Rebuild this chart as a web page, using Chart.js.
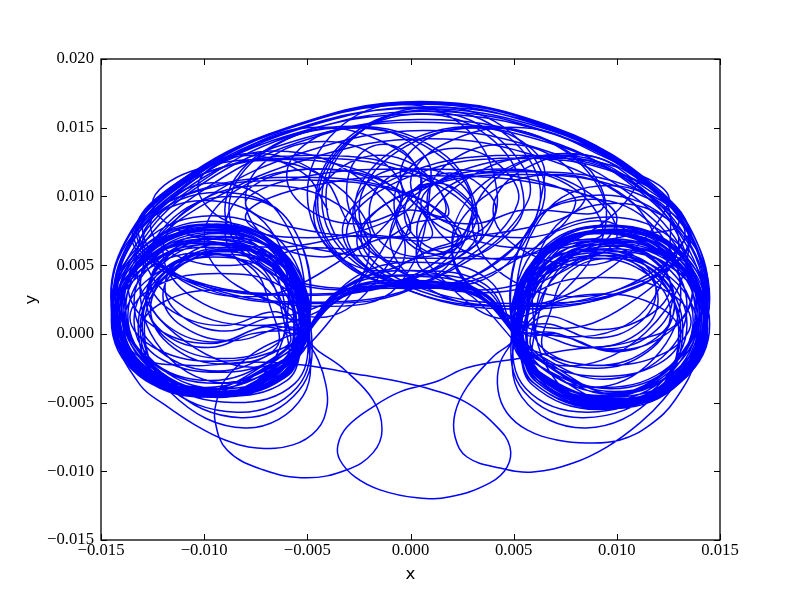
<!DOCTYPE html>
<html><head><meta charset="utf-8">
<script src="https://cdn.jsdelivr.net/npm/chart.js@4/dist/chart.umd.min.js"></script>
<style>html,body{margin:0;padding:0;background:#fff}</style>
</head><body>
<canvas id="c" width="800" height="600"></canvas>
<script>
// All trajectory values below are in thousandths (x1e-3) of the axis units.
const UNIT = 1e-3;
const xTickValues = [-0.015, -0.010, -0.005, 0.000, 0.005, 0.010, 0.015];
const yTickValues = [-0.015, -0.010, -0.005, 0.000, 0.005, 0.010, 0.015, 0.020];
const xAxisLabel = 'x';
const yAxisLabel = 'y';

const leftLobeLoops = [
 [[-5.0,0.3],[-6.4,5.7],[-9.6,7.5],[-12.8,5.7],[-14.2,1.5],[-12.8,-2.7],[-9.6,-4.5],[-6.4,-2.7]],
 [[-5.2,0.2],[-6.6,5.2],[-9.8,6.9],[-13.0,5.2],[-14.3,1.2],[-13.0,-2.8],[-9.8,-4.5],[-6.6,-2.8]],
 [[-5.0,0.6],[-6.3,6.1],[-9.4,8.0],[-12.5,6.1],[-13.8,1.8],[-12.5,-2.5],[-9.4,-4.4],[-6.3,-2.5]],
 [[-5.4,0.0],[-7.0,4.7],[-9.9,6.3],[-13.0,4.7],[-14.4,0.9],[-13.0,-2.9],[-9.9,-4.5],[-6.8,-2.9]],
 [[-4.9,0.2],[-6.1,5.5],[-9.3,7.3],[-12.5,5.5],[-13.9,1.4],[-12.5,-2.7],[-9.3,-4.5],[-6.1,-2.7]],
 [[-5.3,0.8],[-6.7,6.0],[-9.7,7.6],[-12.7,6.0],[-14.0,2.1],[-12.7,-1.8],[-9.7,-3.4],[-6.7,-1.8]],
 [[-5.2,1.0],[-6.3,5.7],[-9.0,7.0],[-11.7,5.7],[-12.8,2.6],[-11.7,-0.5],[-9.0,-1.8],[-6.3,-0.5]],
 [[-6.1,2.2],[-7.1,5.5],[-9.4,6.6],[-11.7,5.5],[-12.7,3.0],[-11.7,0.5],[-9.4,-0.6],[-7.1,0.5]],
 [[-5.5,0.2],[-6.9,5.7],[-10.0,7.6],[-13.2,5.7],[-14.5,1.4],[-13.2,-2.9],[-10.0,-4.6],[-6.9,-2.9]],
 [[-5.1,-0.2],[-6.4,4.1],[-9.5,5.6],[-12.6,4.1],[-13.9,0.6],[-12.6,-2.9],[-9.5,-4.6],[-6.4,-2.9]],
 [[-5.2,1.6],[-6.2,5.1],[-8.6,6.1],[-11.0,5.1],[-12.0,2.8],[-11.0,0.5],[-8.6,-0.5],[-6.2,0.5]],
 [[-4.9,0.6],[-6.2,6.6],[-9.6,8.6],[-13.0,6.6],[-14.5,2.0],[-13.0,-2.6],[-9.6,-4.4],[-6.2,-2.6]],
 [[-6.0,0.0],[-7.3,5.0],[-10.2,6.6],[-13.1,5.0],[-14.4,1.1],[-13.1,-2.8],[-10.2,-4.4],[-7.3,-2.8]],
 [[-5.0,0.0],[-6.3,4.5],[-9.2,6.0],[-12.1,4.5],[-13.4,1.0],[-12.1,-2.5],[-9.2,-4.0],[-6.3,-2.5]],
 [[-5.7,2.0],[-6.9,6.6],[-9.7,7.9],[-12.5,6.6],[-13.7,3.6],[-12.5,0.6],[-9.7,-0.7],[-6.9,0.6]],
 [[-4.9,0.4],[-6.3,5.6],[-9.5,7.4],[-12.7,5.6],[-14.1,1.5],[-12.7,-2.6],[-9.5,-4.4],[-6.3,-2.6]],
 [[-4.9,-0.1],[-6.1,4.2],[-9.0,5.8],[-11.9,4.2],[-13.1,0.4],[-11.9,-3.4],[-8.6,-5.0],[-5.6,-3.6]],
 [[-5.0,0.0],[-6.2,4.4],[-9.1,6.0],[-12.0,4.4],[-13.2,0.5],[-12.0,-3.6],[-8.4,-5.7],[-5.5,-3.9]],
 [[-4.9,0.1],[-6.0,4.6],[-8.9,6.3],[-11.8,4.6],[-13.0,0.5],[-11.7,-3.8],[-8.2,-6.1],[-5.4,-4.1]],
 [[-4.8,0.0],[-5.9,4.5],[-8.8,6.2],[-11.7,4.5],[-12.9,0.3],[-11.6,-4.3],[-8.0,-6.85],[-5.2,-4.5]],
 [[-5.1,0.4],[-6.5,6.1],[-9.8,8.0],[-13.1,6.1],[-14.5,1.7],[-13.1,-2.7],[-9.8,-4.6],[-6.5,-2.7]],
 [[-5.2,1.0],[-6.4,5.8],[-9.3,7.3],[-12.2,5.8],[-13.4,2.3],[-12.2,-1.2],[-9.3,-2.7],[-6.4,-1.2]],
 [[-5.8,-0.3],[-7.1,4.3],[-10.1,5.9],[-13.1,4.3],[-14.4,0.7],[-13.1,-2.9],[-10.1,-4.5],[-7.1,-2.9]],
 [[-5.9,2.6],[-6.8,5.6],[-8.9,6.6],[-11.0,5.6],[-11.9,3.4],[-11.0,1.2],[-8.9,0.2],[-6.8,1.2]],
 [[-4.9,1.2],[-6.2,6.0],[-9.4,7.6],[-12.6,6.0],[-13.9,2.0],[-12.6,-2.0],[-9.4,-3.6],[-6.2,-2.0]],
 [[-5.1,0.0],[-6.5,4.9],[-9.7,6.5],[-12.9,4.9],[-14.3,1.0],[-12.9,-2.9],[-9.7,-4.5],[-6.5,-2.9]],
 [[-5.4,1.0],[-6.5,4.6],[-9.0,5.8],[-11.5,4.6],[-12.6,1.8],[-11.5,-1.0],[-9.0,-2.2],[-6.5,-1.0]],
 [[-6.8,2.0],[-7.7,4.8],[-9.8,5.8],[-11.9,4.8],[-12.8,2.4],[-11.9,0.0],[-9.8,-1.0],[-7.7,0.0]],
 [[-5.0,0.8],[-6.3,3.5],[-9.3,4.4],[-12.3,3.5],[-13.6,1.2],[-12.3,-1.1],[-9.3,-2.0],[-6.3,-1.1]],
 [[-4.95,0.4],[-6.3,5.9],[-9.6,7.7],[-12.9,5.9],[-14.3,1.6],[-12.9,-2.7],[-9.6,-4.6],[-6.3,-2.7]],
 [[-5.1,0.3],[-6.5,5.4],[-9.7,7.1],[-12.9,5.4],[-14.2,1.3],[-12.9,-2.8],[-9.7,-4.3],[-6.5,-2.8]],
 [[-5.0,0.5],[-6.2,5.9],[-9.4,7.8],[-12.6,5.9],[-14.0,1.7],[-12.6,-2.4],[-9.4,-4.2],[-6.2,-2.4]],
 [[-5.4,3.0],[-6.5,6.0],[-9.0,7.0],[-11.5,6.0],[-12.6,3.8],[-11.5,1.6],[-9.0,0.6],[-6.5,1.6]],
 [[-5.3,0.2],[-6.6,2.3],[-9.3,3.2],[-12.0,2.3],[-13.1,0.2],[-12.0,-1.9],[-9.3,-2.8],[-6.6,-1.9]],
 [[-5.3,0.1],[-6.8,5.0],[-10.0,6.7],[-13.2,5.0],[-14.5,1.0],[-13.2,-3.0],[-10.0,-4.4],[-6.8,-3.0]],
 [[-4.9,0.3],[-6.0,5.3],[-9.1,7.1],[-12.3,5.3],[-13.7,1.3],[-12.3,-2.6],[-9.1,-4.3],[-6.0,-2.6]],
 [[-5.0,0.9],[-6.4,6.3],[-9.7,8.2],[-13.0,6.3],[-14.4,2.2],[-13.0,-2.2],[-9.7,-4.0],[-6.4,-2.2]],
 [[-5.6,0.6],[-6.9,5.3],[-9.9,6.9],[-12.9,5.3],[-14.2,1.5],[-12.9,-2.3],[-9.9,-3.9],[-6.9,-2.3]],
 [[-4.9,1.0],[-5.9,8.2],[-9.3,10.3],[-12.7,8.2],[-14.2,3.0],[-12.7,-2.1],[-9.3,-4.3],[-5.9,-2.1]],
 [[-5.0,1.5],[-6.4,8.8],[-9.6,11.0],[-12.5,8.6],[-14.2,3.5],[-12.8,-1.8],[-9.6,-4.1],[-6.4,-1.8]],
 [[-4.9,0.8],[-5.8,8.0],[-8.8,10.0],[-11.8,8.0],[-13.1,3.2],[-11.8,-1.6],[-8.8,-3.6],[-5.8,-1.6]],
 [[-5.5,0.5],[-6.8,7.6],[-10.0,9.7],[-13.2,7.6],[-14.5,2.8],[-13.2,-2.0],[-10.0,-4.1],[-6.8,-2.0]],
 [[-5.0,0.2]]
];

const rightLobeLoops = [
 [[5.0,0.1],[6.4,5.5],[9.6,7.4],[12.8,5.5],[14.2,1.2],[12.8,-3.1],[9.6,-5.0],[6.4,-3.1]],
 [[5.2,0.0],[6.6,5.1],[9.8,6.9],[13.0,5.1],[14.3,0.9],[13.0,-3.3],[9.8,-5.1],[6.6,-3.3]],
 [[5.0,0.4],[6.3,6.0],[9.4,7.9],[12.5,6.0],[13.8,1.5],[12.5,-3.0],[9.4,-4.9],[6.3,-3.0]],
 [[5.4,-0.1],[7.0,4.7],[9.9,6.4],[13.0,4.7],[14.4,0.6],[13.0,-3.5],[9.9,-5.2],[6.8,-3.5]],
 [[4.9,0.1],[6.1,5.5],[9.3,7.4],[12.5,5.5],[13.9,1.1],[12.5,-3.3],[9.3,-5.2],[6.1,-3.3]],
 [[5.3,0.6],[6.7,5.9],[9.7,7.6],[12.7,5.9],[14.0,1.8],[12.7,-2.3],[9.7,-4.0],[6.7,-2.3]],
 [[5.2,0.8],[6.3,5.5],[9.0,6.9],[11.7,5.5],[12.8,2.3],[11.7,-0.9],[9.0,-2.3],[6.3,-0.9]],
 [[6.1,1.9],[7.1,5.4],[9.4,6.5],[11.7,5.4],[12.7,2.7],[11.7,0.0],[9.4,-1.1],[7.1,0.0]],
 [[5.6,0.1],[6.9,5.7],[10.0,7.6],[13.1,5.7],[14.4,1.1],[13.1,-3.5],[10.0,-5.4],[6.9,-3.5]],
 [[5.1,-0.3],[6.4,4.1],[9.5,5.7],[12.6,4.1],[13.9,0.3],[12.6,-3.5],[9.5,-5.1],[6.4,-3.5]],
 [[5.2,1.4],[6.2,5.0],[8.6,6.0],[11.0,5.0],[12.0,2.5],[11.0,0.0],[8.6,-1.0],[6.2,0.0]],
 [[4.9,0.5],[6.2,6.5],[9.6,8.5],[13.0,6.5],[14.4,1.7],[13.0,-3.1],[9.6,-5.1],[6.2,-3.1]],
 [[6.0,-0.1],[7.3,4.9],[10.2,6.7],[13.1,4.9],[14.4,0.8],[13.1,-3.3],[10.2,-5.1],[7.3,-3.3]],
 [[5.0,-0.1],[6.3,4.5],[9.2,6.1],[12.1,4.5],[13.4,0.7],[12.1,-3.1],[9.2,-4.7],[6.3,-3.1]],
 [[5.7,1.8],[6.9,6.5],[9.7,7.8],[12.5,6.5],[13.7,3.3],[12.5,0.1],[9.7,-1.2],[6.9,0.1]],
 [[4.9,0.3],[6.3,5.5],[9.5,7.4],[12.7,5.5],[14.1,1.2],[12.7,-3.1],[9.5,-5.0],[6.3,-3.1]],
 [[4.9,-0.1],[6.1,4.1],[9.0,5.7],[11.9,4.1],[13.1,0.2],[11.9,-3.9],[8.6,-5.7],[5.6,-4.0]],
 [[5.0,0.0],[6.2,4.3],[9.1,5.9],[12.0,4.3],[13.2,0.3],[12.0,-4.0],[8.4,-6.1],[5.5,-4.2]],
 [[4.9,0.0],[6.0,4.5],[8.9,6.2],[11.8,4.5],[13.0,0.3],[11.9,-4.4],[8.5,-6.85],[5.4,-4.6]],
 [[5.1,0.3],[6.5,6.0],[9.8,7.9],[13.1,6.0],[14.4,1.4],[13.1,-3.2],[9.8,-5.1],[6.5,-3.2]],
 [[5.2,0.8],[6.4,5.7],[9.3,7.3],[12.2,5.7],[13.4,2.0],[12.2,-1.7],[9.3,-3.3],[6.4,-1.7]],
 [[5.8,-0.4],[7.1,4.3],[10.1,6.0],[13.1,4.3],[14.4,0.4],[13.1,-3.5],[10.1,-5.2],[7.1,-3.5]],
 [[5.9,2.4],[6.8,5.5],[8.9,6.5],[11.0,5.5],[11.9,3.1],[11.0,0.7],[8.9,-0.3],[6.8,0.7]],
 [[4.9,0.9],[6.2,5.7],[9.4,7.3],[12.6,5.7],[13.9,1.7],[12.6,-2.3],[9.4,-3.9],[6.2,-2.3]],
 [[5.1,-0.3],[6.5,4.6],[9.7,6.2],[12.9,4.6],[14.3,0.7],[12.9,-3.2],[9.7,-4.8],[6.5,-3.2]],
 [[5.4,0.7],[6.5,4.3],[9.0,5.5],[11.5,4.3],[12.6,1.5],[11.5,-1.3],[9.0,-2.5],[6.5,-1.3]],
 [[6.8,1.7],[7.7,4.5],[9.8,5.5],[11.9,4.5],[12.8,2.1],[11.9,-0.3],[9.8,-1.3],[7.7,-0.3]],
 [[5.0,0.5],[6.3,3.2],[9.3,4.1],[12.3,3.2],[13.6,0.9],[12.3,-1.4],[9.3,-2.3],[6.3,-1.4]],
 [[4.95,0.1],[6.3,5.6],[9.6,7.4],[12.9,5.6],[14.3,1.3],[12.9,-3.0],[9.6,-4.9],[6.3,-3.0]],
 [[5.1,0.0],[6.5,5.1],[9.7,6.8],[12.9,5.1],[14.2,1.0],[12.9,-3.1],[9.7,-4.6],[6.5,-3.1]],
 [[5.0,0.2],[6.2,5.6],[9.4,7.5],[12.6,5.6],[14.0,1.4],[12.6,-2.7],[9.4,-4.5],[6.2,-2.7]],
 [[5.4,2.7],[6.5,5.7],[9.0,6.7],[11.5,5.7],[12.6,3.5],[11.5,1.3],[9.0,0.3],[6.5,1.3]],
 [[5.3,-0.1],[6.6,2.0],[9.3,2.9],[12.0,2.0],[13.1,-0.1],[12.0,-2.2],[9.3,-3.1],[6.6,-2.2]],
 [[5.3,-0.2],[6.8,4.7],[10.0,6.4],[13.2,4.7],[14.5,0.7],[13.2,-3.3],[10.0,-4.7],[6.8,-3.3]],
 [[4.9,0.0],[6.0,5.0],[9.1,6.8],[12.3,5.0],[13.7,1.0],[12.3,-2.9],[9.1,-4.6],[6.0,-2.9]],
 [[5.0,0.6],[6.4,6.0],[9.7,7.9],[13.0,6.0],[14.4,1.9],[13.0,-2.5],[9.7,-4.3],[6.4,-2.5]],
 [[5.6,0.3],[6.9,5.0],[9.9,6.6],[12.9,5.0],[14.2,1.2],[12.9,-2.6],[9.9,-4.2],[6.9,-2.6]],
 [[4.9,0.8],[5.9,8.0],[9.3,10.1],[12.7,8.0],[14.2,2.8],[12.7,-2.3],[9.3,-4.6],[5.9,-2.3]],
 [[5.0,1.3],[6.4,8.6],[9.6,10.8],[12.8,8.6],[14.2,3.3],[12.8,-2.0],[9.6,-4.4],[6.4,-2.0]],
 [[4.9,0.6],[5.8,7.8],[8.8,9.8],[11.8,7.8],[13.1,3.0],[11.8,-1.8],[8.8,-3.9],[5.8,-1.8]],
 [[5.5,0.3],[6.8,7.4],[10.0,9.5],[13.2,7.4],[14.5,2.6],[13.2,-2.2],[10.0,-4.4],[6.8,-2.2]],
 [[5.0,0.2]]
];

const upperLoops = [
 [[-4.0,9.0],[-5.3,11.8],[-8.5,12.9],[-11.2,10.5],[-12.6,8.0],[-11.5,5.8],[-8.5,5.0],[-5.3,6.2]],
 [[-2.0,6.6],[-3.6,10.8],[-7.5,12.6],[-11.2,10.2],[-13.0,6.6],[-11.4,2.4],[-7.5,0.6],[-3.6,2.4]],
 [[-2.0,6.0],[-3.5,9.4],[-7.0,10.8],[-10.5,9.4],[-12.0,6.0],[-10.5,2.6],[-7.0,1.2],[-3.5,2.6]],
 [[-0.3,5.5],[-2.2,11.0],[-6.8,13.3],[-11.0,10.6],[-13.3,5.5],[-11.4,0.0],[-6.8,-2.3],[-3.0,2.7]],
 [[-0.4,9.8],[-1.5,12.7],[-4.2,14.0],[-6.9,12.7],[-8.0,9.8],[-6.9,6.9],[-4.2,5.6],[-1.5,6.9]],
 [[0.0,7.5],[-1.3,10.7],[-4.5,12.0],[-7.7,10.7],[-9.0,7.5],[-7.7,4.3],[-4.6,1.2],[-1.8,3.6]],
 [[0.5,11.0],[-1.1,13.8],[-5.0,15.0],[-8.6,13.0],[-10.3,10.8],[-8.9,8.2],[-5.0,7.0],[-1.1,8.2]],
 [[0.5,10.4],[0.0,12.8],[-1.3,13.8],[-2.6,12.8],[-3.1,10.4],[-2.6,8.0],[-1.3,7.0],[0.0,8.0]],
 [[1.7,8.8],[0.7,11.7],[-1.5,13.0],[-3.7,11.7],[-4.7,8.8],[-3.7,5.9],[-1.5,4.6],[0.7,5.9]],
 [[2.5,7.0],[0.1,10.0],[-5.5,11.2],[-11.1,10.0],[-13.5,7.0],[-11.1,4.0],[-5.5,2.8],[0.1,4.0]],
 [[3.3,7.5],[0.8,11.2],[-5.0,12.8],[-10.8,11.2],[-13.3,7.5],[-10.8,3.8],[-5.0,2.2],[0.8,3.8]],
 [[3.0,9.0],[1.2,13.2],[-3.0,15.0],[-7.2,13.2],[-9.0,9.0],[-7.2,4.8],[-3.0,3.2],[1.2,4.8]],
 [[3.0,8.8],[2.3,11.1],[0.5,12.0],[-1.3,11.1],[-2.0,8.8],[-1.3,6.5],[0.5,5.6],[2.3,6.5]],
 [[4.1,8.8],[3.4,10.8],[1.9,11.7],[0.4,10.8],[-0.3,8.8],[0.4,6.8],[1.9,5.9],[3.4,6.8]],
 [[4.2,10.2],[2.8,14.8],[-0.4,16.7],[-3.6,14.8],[-5.0,10.2],[-3.6,5.6],[-0.4,3.6],[2.8,5.6]],
 [[5.2,9.5],[4.3,12.3],[2.2,13.5],[0.1,12.3],[-0.8,9.5],[0.1,6.7],[2.2,5.5],[4.3,6.7]],
 [[5.5,9.6],[4.0,14.1],[0.5,16.0],[-3.0,14.1],[-4.5,9.6],[-3.0,5.1],[0.5,3.4],[4.0,5.1]],
 [[6.5,9.9],[4.9,14.6],[1.2,16.5],[-2.5,14.6],[-4.1,9.9],[-2.5,5.2],[1.2,3.5],[4.9,5.2]],
 [[8.0,9.5],[5.6,11.3],[0.0,12.0],[-5.6,11.3],[-8.0,9.5],[-5.6,7.7],[0.0,7.0],[5.6,7.7]],
 [[8.4,9.6],[7.3,12.5],[4.6,13.8],[1.9,12.5],[0.8,9.6],[1.9,6.7],[4.6,5.4],[7.3,6.7]],
 [[9.3,7.3],[8.0,10.5],[4.8,11.9],[1.6,10.5],[0.3,7.3],[1.8,3.6],[4.7,1.1],[8.0,4.0]],
 [[9.5,9.0],[7.7,13.2],[3.5,15.0],[-0.7,13.2],[-2.5,9.0],[-0.7,4.8],[3.5,3.0],[7.7,4.8]],
 [[10.0,8.5],[7.3,10.6],[1.0,11.5],[-5.3,10.6],[-8.0,8.5],[-5.3,6.4],[1.0,5.5],[7.3,6.4]],
 [[11.0,11.0],[9.2,13.0],[5.5,15.0],[1.6,13.8],[0.0,11.0],[1.6,8.2],[5.5,7.0],[9.4,8.2]],
 [[12.0,6.0],[10.5,9.9],[7.0,11.6],[3.5,9.9],[2.0,6.0],[3.6,2.5],[7.0,0.4],[10.5,2.1]],
 [[13.0,6.4],[11.2,10.6],[7.5,13.0],[3.6,11.0],[2.0,6.4],[3.7,2.4],[7.5,-0.2],[11.4,1.8]],
 [[12.6,8.6],[11.2,10.8],[8.5,13.0],[5.3,11.8],[4.0,9.0],[5.3,6.2],[8.5,5.0],[11.7,6.2]],
 [[13.4,5.4],[11.2,10.5],[6.8,13.0],[2.2,10.7],[0.3,5.4],[3.0,2.7],[6.8,-2.2],[11.4,0.1]],
 [[13.5,7.3],[11.0,11.1],[5.2,12.8],[-0.6,11.1],[-3.1,7.3],[-0.6,3.5],[5.2,1.8],[11.0,3.5]],
 [[13.6,7.0],[11.2,10.4],[5.6,11.8],[0.0,10.4],[-2.4,7.0],[0.0,3.6],[5.6,2.2],[11.2,3.6]],
 [[13.5,7.2]]
];

const upperLoopsB = [
 [[-3.0,8.0],[-4.5,11.7],[-8.0,13.1],[-11.3,11.0],[-13.0,8.0],[-11.5,4.3],[-8.0,2.7],[-4.5,4.3]],
 [[-0.5,9.5],[-2.3,11.8],[-6.5,12.7],[-10.7,11.8],[-12.5,9.5],[-10.7,7.2],[-6.5,6.3],[-2.3,7.2]],
 [[1.0,7.0],[-0.6,10.5],[-4.5,12.0],[-8.4,10.5],[-10.0,7.0],[-8.4,3.5],[-4.5,2.0],[-0.6,3.5]],
 [[1.0,11.5],[-0.1,14.0],[-2.5,15.0],[-4.9,14.0],[-6.0,11.5],[-4.9,9.0],[-2.5,8.0],[-0.1,9.0]],
 [[1.8,8.6],[1.1,11.0],[-0.5,12.0],[-2.1,11.0],[-2.8,8.6],[-2.1,6.2],[-0.5,5.2],[1.1,6.2]],
 [[2.3,7.1],[-0.1,10.2],[-5.7,11.4],[-11.0,10.1],[-13.4,7.1],[-11.0,4.1],[-5.7,2.9],[-0.1,4.1]],
 [[3.1,8.4],[2.5,10.2],[1.2,11.0],[-0.1,10.2],[-0.7,8.4],[-0.1,6.6],[1.2,5.8],[2.5,6.6]],
 [[3.2,9.1],[1.4,13.3],[-2.8,15.1],[-7.0,13.3],[-8.8,9.1],[-7.0,4.9],[-2.8,3.3],[1.4,4.9]],
 [[3.5,7.6],[1.0,11.4],[-4.8,13.0],[-10.6,11.3],[-13.2,7.6],[-10.7,3.9],[-4.8,2.3],[1.0,3.9]],
 [[5.7,9.7],[4.2,14.3],[0.6,16.2],[-3.0,14.3],[-4.6,9.7],[-3.1,5.1],[0.6,3.5],[4.2,5.2]],
 [[6.3,9.8],[4.7,14.4],[1.0,16.3],[-2.7,14.4],[-4.3,9.8],[-2.7,5.2],[1.0,3.4],[4.7,5.1]],
 [[6.5,11.5],[5.4,14.0],[3.0,15.0],[0.6,14.0],[-0.5,11.5],[0.6,9.0],[3.0,8.0],[5.4,9.0]],
 [[9.3,9.1],[7.5,13.3],[3.3,15.1],[-0.9,13.3],[-2.7,9.1],[-0.9,4.9],[3.3,3.2],[7.5,4.9]],
 [[10.0,7.0],[8.4,10.5],[4.5,12.0],[0.6,10.5],[-1.0,7.0],[0.6,3.5],[4.5,2.0],[8.4,3.5]],
 [[12.5,9.5],[10.7,11.8],[6.5,12.8],[2.3,11.8],[0.5,9.5],[2.3,7.2],[6.5,6.2],[10.7,7.2]],
 [[13.0,8.0],[11.3,11.0],[8.0,13.1],[4.5,11.7],[3.0,8.0],[4.5,4.3],[8.0,2.7],[11.5,4.3]],
 [[13.3,7.5],[10.8,11.3],[5.0,13.0],[-0.8,11.3],[-3.3,7.5],[-0.8,3.6],[5.0,2.0],[10.8,3.6]],
 [[13.5,6.8],[11.0,10.2],[5.4,11.6],[-0.2,10.2],[-2.6,6.8],[-0.2,3.5],[5.4,2.0],[11.0,3.4]],
 [[13.4,7.0]]
];

const outerLoops = [
 [[-5.0,0.0],[-6.2,-3.2],[-9.5,-4.6],[-13.2,-2.8],[-14.4,1.8],[-13.6,6.8],[-11.0,11.0],[-6.0,14.9],[0.6,16.8],[7.0,14.9],[11.4,11.0],[13.7,6.8],[14.4,1.8],[13.3,-3.0],[9.6,-5.2],[6.2,-3.4],[5.0,0.0],[3.2,2.9],[0.0,3.5],[-3.2,2.9]],
 [[-5.1,0.2],[-6.5,-3.0],[-9.8,-4.5],[-13.4,-2.5],[-14.5,2.2],[-13.7,7.0],[-11.2,11.0],[-6.3,14.8],[0.3,16.7],[6.6,15.0],[11.2,11.3],[13.6,7.2],[14.3,2.3],[13.4,-2.6],[9.8,-5.1],[6.5,-3.2],[5.1,0.1],[3.4,3.1],[0.2,3.8],[-3.0,3.3]],
 [[-5.0,0.1],[-6.3,-3.3],[-9.6,-4.4],[-13.1,-2.6],[-14.3,1.9],[-13.3,6.5],[-10.6,10.6],[-5.8,14.4],[0.8,16.2],[7.2,14.4],[11.6,10.6],[13.8,6.4],[14.3,1.5],[13.2,-3.2],[9.4,-5.3],[6.1,-3.5],[5.0,0.0],[3.0,3.0],[-0.2,3.9],[-3.4,3.0]],
 [[-5.0,0.0],[-6.0,-3.4],[-9.3,-4.5],[-12.9,-2.8],[-14.2,1.6],[-13.1,6.2],[-10.3,10.2],[-5.5,13.9],[0.4,15.6],[6.6,14.1],[11.0,10.5],[13.5,6.1],[14.2,1.2],[13.1,-3.4],[9.3,-5.4],[6.0,-3.6],[5.0,-0.1],[3.3,3.2],[0.0,4.2],[-3.3,3.3]],
 [[-5.1,0.1],[-6.4,-3.1],[-9.7,-4.6],[-13.3,-2.7],[-14.4,2.0],[-13.5,6.9],[-10.8,10.9],[-5.6,14.8],[1.0,16.5],[7.5,14.6],[11.8,10.8],[13.9,6.6],[14.4,1.6],[13.4,-3.1],[9.7,-5.2],[6.3,-3.3],[5.0,0.0],[3.6,3.6],[0.4,4.6],[-2.8,3.7]],
 [[-5.0,0.0],[-6.2,-3.3],[-9.4,-4.5],[-12.8,-2.9],[-14.1,1.4],[-12.9,5.8],[-10.0,9.8],[-5.2,13.2],[0.6,14.8],[6.4,13.4],[10.8,10.0],[13.3,5.8],[14.1,1.1],[13.0,-3.5],[9.2,-5.5],[5.9,-3.7],[5.0,0.0],[2.9,3.3],[0.0,4.6],[-3.0,3.6]],
 [[-5.0,0.1],[-6.1,-3.2],[-9.5,-4.4],[-13.0,-2.7],[-14.3,2.1],[-13.5,7.0],[-11.0,10.9],[-6.2,14.6],[0.0,16.4],[6.8,14.8],[11.3,11.0],[13.7,6.7],[14.3,1.9],[13.3,-2.9],[9.5,-5.0],[6.2,-3.2],[5.0,0.1],[3.8,3.9],[0.8,5.2],[-2.6,4.2]],
 [[-5.0,0.0],[-6.3,-3.1],[-9.6,-4.5],[-13.3,-2.6],[-14.5,2.0],[-13.8,6.7],[-11.2,10.9],[-6.1,14.9],[0.7,16.85],[7.1,14.9],[11.5,11.0],[13.8,6.9],[14.4,2.0],[13.4,-2.7],[9.7,-5.1],[6.4,-3.2],[5.0,0.0],[3.1,2.8],[0.0,3.3],[-3.1,2.8]],
 [[-5.0,0.1],[-6.2,-3.0],[-9.5,-4.3],[-12.9,-2.6],[-14.2,1.8],[-13.2,6.3],[-10.6,10.4],[-5.9,13.9],[0.2,15.4],[6.5,14.0],[11.0,10.7],[13.6,6.4],[14.3,1.7],[13.2,-3.0],[9.5,-5.1],[6.1,-3.3],[5.0,0.0],[3.5,3.4],[0.3,4.3],[-3.1,3.4]],
 [[-5.0,0.0],[-6.3,-3.2],[-9.7,-4.5],[-13.2,-2.7],[-14.4,1.9],[-13.5,6.6],[-10.9,10.8],[-6.0,14.4],[0.5,16.0],[7.0,14.5],[11.4,10.9],[13.8,6.5],[14.4,1.6],[13.3,-3.1],[9.6,-5.3],[6.2,-3.4],[5.0,0.1],[3.0,2.9],[0.1,3.6],[-3.0,2.9]],
 [[-5.0,0.0],[-6.0,-3.1],[-9.3,-4.3],[-12.7,-2.7],[-14.0,1.5],[-12.8,5.9],[-9.8,9.6],[-4.8,12.8],[0.8,14.2],[6.2,12.9],[10.6,9.7],[13.2,5.6],[14.0,1.0],[13.0,-3.4],[9.3,-5.3],[5.9,-3.5],[5.0,0.0],[3.4,3.0],[0.0,3.7],[-3.4,3.0]],
 [[-5.0,0.0],[-6.4,-3.3],[-9.8,-4.6],[-13.4,-2.6],[-14.5,2.1],[-13.8,6.8],[-11.3,11.0],[-6.2,14.9],[0.5,16.9],[7.2,14.9],[11.6,10.9],[13.9,6.6],[14.4,1.8],[13.4,-2.9],[9.8,-5.2],[6.4,-3.3],[5.0,0.0],[3.3,3.0],[0.0,3.4],[-3.3,3.0]],
 [[-5.0,0.0]]
];

const lowerExcursions = [
 [[-5.11,-0.23],[-4.48,-1.89],[-4.10,-3.71],[-4.05,-5.31],[-4.53,-6.98],[-5.70,-8.08],[-7.44,-8.30],[-8.99,-7.72],[-10.45,-6.62],[-11.90,-5.17],[-13.11,-3.71],[-14.18,-0.44],[-13.9,3.5],[-12.2,6.6],[-9.5,7.8],[-6.9,6.4],[-5.5,3.4]],
 [[-5.02,-0.30],[-3.18,-2.63],[-1.82,-4.80],[-1.38,-6.98],[-1.82,-8.66],[-3.08,-9.89],[-5.02,-10.47],[-7.15,-9.89],[-8.89,-8.45],[-9.48,-6.27],[-9.38,-4.80],[-8.99,-3.35],[-7.6,-1.4],[-6.0,-0.2],[-5.0,0.4],[-6.4,5.4]],
 [[-9.8,6.9],[-12.9,5.2],[-14.3,1.3],[-13.2,-1.6],[-10.6,-2.3],[-7.78,-2.04],[-5.21,-2.26],[-2.93,-2.84],[-0.51,-3.49],[1.09,-4.08],[2.74,-5.02],[4.19,-6.77],[4.82,-8.22],[4.68,-9.69],[3.85,-10.84],[1.91,-11.86],[0.32,-11.93],[-1.48,-11.35],[-2.69,-10.41],[-3.42,-9.18],[-3.52,-8.09],[-3.08,-6.77],[-1.82,-5.31],[-0.51,-4.22],[1.33,-3.43],[2.74,-2.47],[5.45,-1.74],[7.73,-1.16],[10.6,-0.6],[13.2,1.2],[13.4,5.2],[10.6,7.4],[7.2,6.6],[5.5,3.6]],
 [[5.07,-0.23],[4.00,-1.67],[2.74,-3.86],[2.16,-5.76],[2.16,-7.50],[2.74,-8.96],[4.34,-9.76],[5.94,-10.05],[7.88,-9.40],[9.53,-8.22],[11.12,-6.48],[12.24,-4.81],[13.06,-2.99],[14.0,1.0],[13.2,5.5],[10.0,7.5],[6.8,5.8]],
 [[5.07,-0.23],[4.34,-2.12],[4.24,-4.08],[4.68,-5.76],[5.65,-6.99],[7.10,-7.72],[8.56,-7.94],[10.16,-7.72],[11.61,-6.62],[12.82,-4.81],[13.9,-1.6],[14.2,2.5],[12.6,6.4],[9.5,7.6],[6.6,6.0],[5.1,0.3]]
];

const trajectoryGroups = [leftLobeLoops, rightLobeLoops, upperLoops, upperLoopsB, outerLoops, lowerExcursions];

function toPoints(loops) {
  const pts = [];
  loops.forEach(loop => loop.forEach(p => pts.push({x: p[0] * UNIT, y: p[1] * UNIT})));
  return pts;
}

function fmtTick(v) {
  if (Math.abs(v) < 1e-12) return '0.000';
  const s = Math.abs(v).toFixed(3);
  return v < 0 ? '\u2212' + s : s;
}

const framePlugin = {
  id: 'mplFrame',
  afterDatasetsDraw(chart) {
    const {ctx, chartArea: a, scales} = chart;
    ctx.save();
    ctx.strokeStyle = '#000';
    ctx.lineWidth = 1;
    const L = 6;
    ctx.beginPath();
    xTickValues.forEach(v => {
      const px = Math.round(scales.x.getPixelForValue(v)) + 0.5;
      ctx.moveTo(px, a.bottom); ctx.lineTo(px, a.bottom - L);
      ctx.moveTo(px, a.top); ctx.lineTo(px, a.top + L);
    });
    yTickValues.forEach(v => {
      const py = Math.round(scales.y.getPixelForValue(v)) + 0.5;
      ctx.moveTo(a.left, py); ctx.lineTo(a.left + L, py);
      ctx.moveTo(a.right, py); ctx.lineTo(a.right - L, py);
    });
    ctx.stroke();
    ctx.lineWidth = 1.3;
    ctx.strokeRect(a.left, a.top, a.right - a.left, a.bottom - a.top);
    ctx.restore();
  }
};

const tickFont = {family: "'Liberation Serif', serif", size: 16.7};
const titleFont = {family: "'DejaVu Sans', sans-serif", size: 16.7};

new Chart(document.getElementById('c').getContext('2d'), {
  type: 'scatter',
  data: {
    datasets: trajectoryGroups.map(g => ({
      data: toPoints(g),
      showLine: true,
      borderColor: '#0000ff',
      backgroundColor: '#0000ff',
      borderWidth: 1.5,
      pointRadius: 0,
      pointHoverRadius: 0,
      tension: 0.4,
      fill: false
    }))
  },
  options: {
    responsive: false,
    animation: false,
    devicePixelRatio: 1,
    layout: {padding: {left: 0, top: 59, right: 80, bottom: 0}},
    plugins: {legend: {display: false}, tooltip: {enabled: false}},
    scales: {
      x: {
        type: 'linear', min: -0.015, max: 0.015,
        grid: {display: false, drawTicks: false, tickLength: 0}, border: {display: false},
        afterBuildTicks: s => { s.ticks = xTickValues.map(v => ({value: v})); },
        afterFit: s => { s.height = 60; },
        ticks: {padding: 1, font: tickFont, color: '#000', maxRotation: 0, autoSkip: false, callback: fmtTick},
        title: {display: true, text: xAxisLabel, font: titleFont, color: '#000', padding: {top: 0, bottom: 15}}
      },
      y: {
        type: 'linear', min: -0.015, max: 0.020,
        grid: {display: false, drawTicks: false, tickLength: 0}, border: {display: false},
        afterBuildTicks: s => { s.ticks = yTickValues.map(v => ({value: v})); },
        afterFit: s => { s.width = 101; },
        ticks: {padding: 7, font: tickFont, color: '#000', autoSkip: false, callback: fmtTick},
        title: {display: true, text: yAxisLabel, font: titleFont, color: '#000', padding: {top: 22, bottom: 0}}
      }
    }
  },
  plugins: [framePlugin]
});
</script>
</body></html>
